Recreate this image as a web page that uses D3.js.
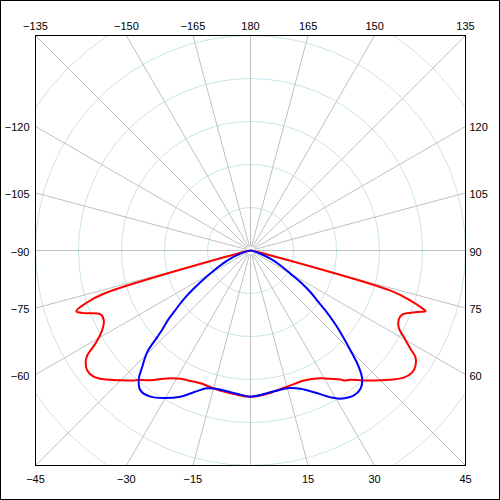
<!DOCTYPE html>
<html>
<head>
<meta charset="utf-8">
<script src="https://cdn.jsdelivr.net/npm/d3@7"></script>
<style>
  body { margin: 0; background: #fff; }
  text { font-family: "Liberation Sans", Arial, sans-serif; font-size: 11px; fill: #000; }
</style>
</head>
<body>
<div id="chart"></div>
<script>
// polar angles in degrees, 0 = straight down, +90 = right, 180 = up
var redAngles = [-90, -80, -73.6, -72.4, -70.8, -69.4, -66.9, -64.5, -61.7, -59, -57.3, -55.9, -53.7, -51.2, -48.7, -45,
  -41.9, -41.2, -37.6, -33.1, -28.6, -24.7, -20.6, -16.3, -10.7, -5.3, 0,
  5.3, 10.8, 16.5, 22.3, 28.7, 32, 34.9, 35.7, 37.7, 41.1, 47.3, 50.3, 53, 55.1, 57.1, 58.4, 60.5, 62.6, 65.3,
  67.1, 69.7, 70.9, 71.6, 72.6, 74, 80, 90];
var redValues = [0, 7, 356, 398, 429, 414, 379, 378, 392, 421, 451, 463, 471, 468, 454, 427,
  406, 400, 381, 355, 340, 334, 330, 331, 334, 337, 340,
  337, 331, 327, 327, 339, 352, 366, 372, 380, 401, 443, 463, 471, 468, 457, 437, 410, 388, 380,
  383, 413, 431, 417, 390, 339, 7, 0];

var blueAngles = [-90, -80, -72, -67, -61.4, -57.6, -54.3, -51.2, -50.1, -48.1, -47.1, -45.45, -42.9, -41, -38.2,
  -34.4, -30.4, -25.6, -21.8, -17.5, -13.5, -9.4, -4, 0,
  2.6, 8, 13.5, 16.2, 19.9, 24.1, 28.6, 31.25, 35.5, 38.5, 41, 42.9, 45, 48.1, 49.3, 51.3, 53.1, 55.2,
  57.6, 59.8, 63.4, 67.5, 71.7, 80, 90];
var blueValues = [0, 5, 26, 56, 97, 138, 186, 229, 248, 276, 296, 337, 370, 396, 414,
  412, 398, 377, 355, 336, 331, 332, 336, 340,
  338, 333, 331, 333, 342, 361, 389, 403, 414, 411, 396, 370, 329, 276, 256, 223, 194, 170,
  138, 108, 78, 50, 24, 5, 0];

var ringValues = [100, 200, 300, 400, 500, 600];
var spokeAngles = [-165, -150, -135, -120, -105, -90, -75, -60, -45, -30, -15, 0, 15, 30, 45, 60, 75, 90, 105, 120, 135, 150, 165, 180];
var labelAngles = [-135, -150, -165, 180, 165, 150, 135, -120, -105, -90, -75, -60, 120, 105, 90, 75, 60, -45, -30, -15, 15, 30, 45];

var cx = 250.5, cy = 250.5, half = 215;

var svg = d3.select("#chart").append("svg").attr("width", 500).attr("height", 500);

svg.append("rect").attr("x", 0.5).attr("y", 0.5).attr("width", 499).attr("height", 499)
  .attr("fill", "#fff").attr("stroke", "#000");

svg.append("clipPath").attr("id", "plot-clip")
  .append("rect").attr("x", cx - half).attr("y", cy - half).attr("width", half * 2).attr("height", half * 2);

var r = d3.scaleLinear().domain([0, 500]).range([0, half]);
var a = d3.scaleLinear().domain([-180, 180]).range([2 * Math.PI, 0]);

var plot = svg.append("g").attr("transform", "translate(" + cx + "," + cy + ")");
var grid = plot.append("g").attr("clip-path", "url(#plot-clip)").attr("transform", "translate(" + (-cx) + "," + (-cy) + ")")
  .append("g").attr("transform", "translate(" + cx + "," + cy + ")");

grid.selectAll(".ring")
  .data(ringValues)
  .enter()
  .append("circle")
    .attr("class", "ring")
    .attr("r", function (d) { return r(d); })
    .attr("fill", "none")
    .attr("stroke", "#c8e4ec")
    .attr("stroke-width", 1);

// where a spoke at angle d meets the square edge
function edgePoint(d) {
  var t = a(d);
  var dx = Math.sin(t), dy = -Math.cos(t);
  var k = half / Math.max(Math.abs(dx), Math.abs(dy));
  return { x: dx * k, y: dy * k, dx: dx, dy: dy };
}

grid.selectAll(".spoke")
  .data(spokeAngles)
  .enter()
  .append("line")
    .attr("class", "spoke")
    .attr("x1", function (d) { return edgePoint(d).dx * 4; })
    .attr("y1", function (d) { return edgePoint(d).dy * 4; })
    .attr("x2", function (d) { return edgePoint(d).x; })
    .attr("y2", function (d) { return edgePoint(d).y; })
    .attr("stroke", "#c0c0c0")
    .attr("stroke-width", 1);

svg.append("rect").attr("x", cx - half).attr("y", cy - half).attr("width", half * 2).attr("height", half * 2)
  .attr("fill", "none").attr("stroke", "#000");

var line = d3.lineRadial()
  .angle(function (d) { return a(d[0]); })
  .radius(function (d) { return r(d[1]); })
  .curve(d3.curveCatmullRom.alpha(0.5));

var curves = [
  { angles: redAngles, values: redValues, color: "#ff0000" },
  { angles: blueAngles, values: blueValues, color: "#0000ff" }
];

plot.selectAll(".curve")
  .data(curves)
  .enter()
  .append("path")
    .attr("class", "curve")
    .attr("d", function (c) { return line(c.angles.map(function (d, i) { return [d, c.values[i]]; })); })
    .attr("fill", "none")
    .attr("stroke", function (c) { return c.color; })
    .attr("stroke-width", 2)
    .attr("stroke-linejoin", "round");

function labelText(d) {
  return d < 0 ? "\u2212" + Math.abs(d) : String(d);
}

plot.selectAll(".angle-label")
  .data(labelAngles)
  .enter()
  .append("text")
    .attr("class", "angle-label")
    .each(function (d) {
      var p = edgePoint(d);
      var el = d3.select(this);
      if (Math.abs(p.dy) >= Math.abs(p.dx) - 1e-6) {
        el.attr("text-anchor", "middle").attr("x", p.x)
          .attr("y", p.dy < 0 ? -half - 6 : half + 17);
      } else if (p.dx < 0) {
        el.attr("text-anchor", "end").attr("x", -half - 6).attr("y", p.y + 5);
      } else {
        el.attr("text-anchor", "start").attr("x", half + 4).attr("y", p.y + 5);
      }
    })
    .text(labelText);
</script>
</body>
</html>
